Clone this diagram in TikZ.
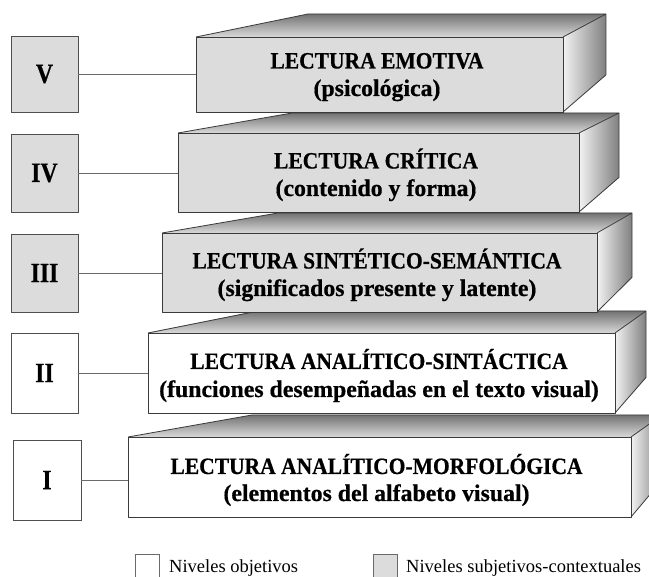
\documentclass[tikz,border=0pt]{standalone}
\usepackage{fontspec}
\setmainfont{Liberation Serif}
\newfontfamily\ttlfont[FakeStretch=0.92, FakeBold=0.6]{Liberation Serif}
\newfontfamily\subfont[FakeBold=0.6]{Liberation Serif}
\newfontfamily\numfont[FakeStretch=0.85, FakeBold=0.6]{Liberation Serif}
\definecolor{boxgray}{HTML}{DCDCDC}
\definecolor{edgecol}{HTML}{3A3A3A}
\definecolor{linkcol}{HTML}{6A6A6A}
\tikzset{
  edge/.style={draw=edgecol, line width=0.8pt, line join=round},
  front/.style={edge, inner sep=0pt, outer sep=0pt},
  numbox/.style={draw=edgecol!90, line width=0.8pt, inner sep=0pt, outer sep=0pt,
     font=\numfont\fontsize{28}{30}\selectfont\bfseries},
  ttl/.style={anchor=base, inner sep=0pt, font=\ttlfont\fontsize{23.4}{26}\selectfont\bfseries},
  sub/.style={anchor=base, inner sep=0pt, font=\subfont\fontsize{23.8}{26}\selectfont\bfseries},
  link/.style={draw=linkcol, line width=0.8pt},
  legbox/.style={draw=linkcol, line width=0.8pt, inner sep=0pt, minimum width=24pt, minimum height=28pt},
  legtxt/.style={anchor=base west, inner sep=0pt, font=\fontsize{18.5}{21}\selectfont},
}
% #1 x1, #2 x2, #3 y1, #4 y2, #5 back-left x, #6 back-right x, #7 back-top y
\newcommand{\boxfaces}[7]{%
  \pgfmathsetmacro{\myratio}{(#6-#5)/(#2-#1)}%
  \pgfmathsetmacro{\mybackbot}{#7+(#4-#3)*\myratio}%
  \shade[top color=black!55, bottom color=black!15] (#1,#3) -- (#5,#7) -- (#6,#7) -- (#2,#3) -- cycle;
  \shade[left color=black!5, right color=black!50] (#2,#3) -- (#6,#7) -- (#6,\mybackbot) -- (#2,#4) -- cycle;
  \draw[edge] (#1,#3) -- (#5,#7) -- (#6,#7) -- (#2,#3) (#6,#7) -- (#6,\mybackbot) -- (#2,#4);
}
\begin{document}
\begin{tikzpicture}[x=1pt,y=-1pt]
\useasboundingbox (0,0) rectangle (649,577);
\clip (0,0) rectangle (649,577);
\fill[white] (0,0) rectangle (649,577);

% ---- Level I ----
\boxfaces{128}{631}{437}{517}{252}{662}{415}
\node[front, fill=white, minimum width=503pt, minimum height=80pt] (f1) at (379.5,477) {};
\node[ttl] (t1a) at (376.5,474) {LECTURA ANALÍTICO-MORFOLÓGICA};
\node[sub] (t1b) at (376.5,501) {(elementos del alfabeto visual)};
\node[numbox, fill=white, minimum width=68pt, minimum height=80pt] (n1) at (47,480) {I};
\draw[link] (n1.east) -- (n1.east -| f1.west);

% ---- Level II ----
\boxfaces{148}{615}{333}{413}{258}{646}{311}
\node[front, fill=white, minimum width=467pt, minimum height=80pt] (f2) at (381.5,373) {};
\node[ttl] (t2a) at (379,369) {LECTURA ANALÍTICO-SINTÁCTICA};
\node[sub] (t2b) at (379,397) {(funciones desempeñadas en el texto visual)};
\node[numbox, fill=white, minimum width=67pt, minimum height=80pt] (n2) at (44.5,373) {II};
\draw[link] (n2.east) -- (n2.east -| f2.west);

% ---- Level III ----
\boxfaces{162}{597}{233}{312}{278}{632}{213}
\node[front, fill=boxgray, minimum width=435pt, minimum height=79pt] (f3) at (379.5,272.5) {};
\node[ttl] (t3a) at (377,268.5) {LECTURA SINTÉTICO-SEMÁNTICA};
\node[sub] (t3b) at (377,296) {(significados presente y latente)};
\node[numbox, fill=boxgray, minimum width=67pt, minimum height=78pt] (n3) at (44.5,273) {III};
\draw[link] (n3.east) -- (n3.east -| f3.west);

% ---- Level IV ----
\boxfaces{178}{579}{133}{212}{292}{619}{113}
\node[front, fill=boxgray, minimum width=401pt, minimum height=79pt] (f4) at (378.5,172.5) {};
\node[ttl] (t4a) at (376,168.5) {LECTURA CRÍTICA};
\node[sub] (t4b) at (376,196) {(contenido y forma)};
\node[numbox, fill=boxgray, minimum width=67pt, minimum height=78pt] (n4) at (44.5,173) {IV};
\draw[link] (n4.east) -- (n4.east -| f4.west);

% ---- Level V ----
\boxfaces{196}{563}{37}{112}{308}{606}{14}
\node[front, fill=boxgray, minimum width=367pt, minimum height=75pt] (f5) at (379.5,74.5) {};
\node[ttl] (t5a) at (377,68.5) {LECTURA EMOTIVA};
\node[sub] (t5b) at (377,96) {(psicológica)};
\node[numbox, fill=boxgray, minimum width=67pt, minimum height=76pt] (n5) at (44.5,74) {V};
\draw[link] (n5.east) -- (n5.east -| f5.west);

% ---- Legend ----
\node[legbox, fill=white] (lg1) at (147,568) {};
\node[legtxt] (lt1) at (169,573) {Niveles objetivos};
\node[legbox, fill=boxgray] (lg2) at (385.5,568) {};
\node[legtxt] (lt2) at (406,573) {Niveles subjetivos-contextuales};
\end{tikzpicture}
\end{document}
